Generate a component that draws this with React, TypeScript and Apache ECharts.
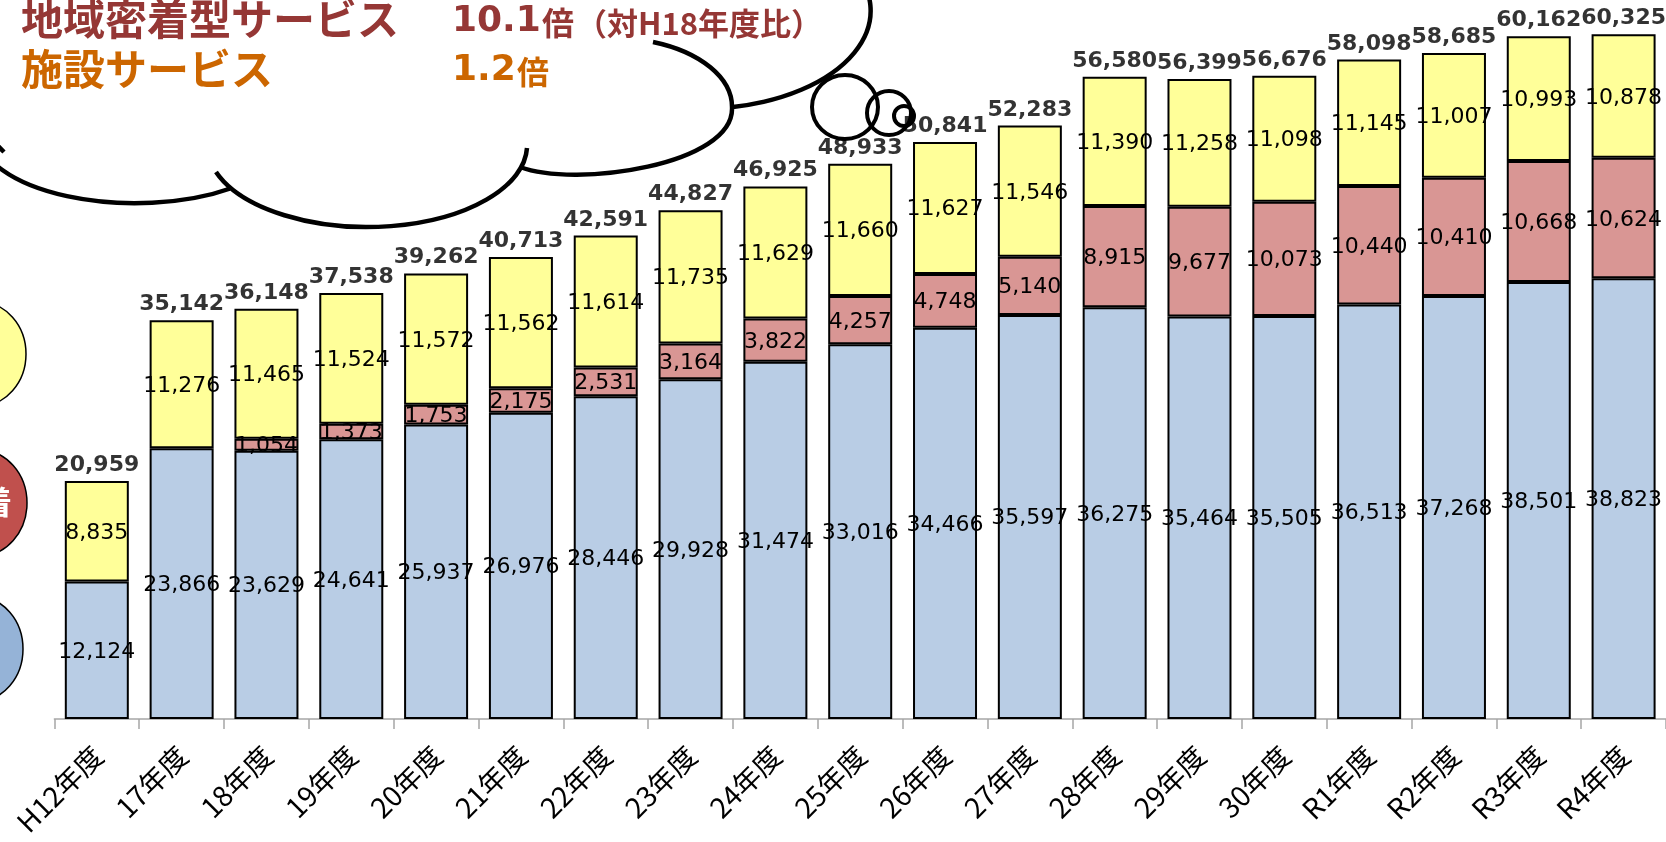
import React, { useEffect, useRef } from "react";
import * as echarts from "echarts";

const categories = [
  "H12年度", "17年度", "18年度", "19年度", "20年度", "21年度", "22年度", "23年度", "24年度", "25年度",
  "26年度", "27年度", "28年度", "29年度", "30年度", "R1年度", "R2年度", "R3年度", "R4年度",
];
const kyotaku = [12124, 23866, 23629, 24641, 25937, 26976, 28446, 29928, 31474, 33016, 34466, 35597, 36275, 35464, 35505, 36513, 37268, 38501, 38823];
const chiiki = [null, null, 1054, 1373, 1753, 2175, 2531, 3164, 3822, 4257, 4748, 5140, 8915, 9677, 10073, 10440, 10410, 10668, 10624];
const shisetsu = [8835, 11276, 11465, 11524, 11572, 11562, 11614, 11735, 11629, 11660, 11627, 11546, 11390, 11258, 11098, 11145, 11007, 10993, 10878];
const totals = [20959, 35142, 36148, 37538, 39262, 40713, 42591, 44827, 46925, 48933, 50841, 52283, 56580, 56399, 56676, 58098, 58685, 60162, 60325];

const cloudPath =
  "M -5 143 L 4 152 " +
  "M -21 133 A 156 70 0 0 0 232 188 " +
  "M 216 172 A 160 82 0 0 0 527 148 " +
  "M 520 167 C 575 188 735 165 732 107 A 120 69 0 0 0 653 42 " +
  "M 733 107 A 170 98 0 0 0 850 -36";

echarts.graphic.registerShape("cloud", echarts.graphic.extendPath(cloudPath, {}));

const fmt = (v: any) => (v == null ? "" : Number(v).toLocaleString("en-US"));

export default function App() {
  const ref = useRef<HTMLDivElement>(null);
  useEffect(() => {
    const chart = echarts.init(ref.current!, null, { renderer: "svg" });
    const segLabel = {
      show: true,
      position: "inside",
      color: "#000",
      fontSize: 22,
      fontFamily: "DejaVu Sans",
      formatter: (p: any) => fmt(p.value),
    };
    const border = { borderColor: "#000", borderWidth: 2 };
    const cjk = "Noto Sans CJK JP";
    const txt = (x: number, y: number, text: string, fill: string, size: number, family: string, align = "left") => ({
      type: "text",
      z: 11,
      x,
      y,
      style: { text, fill, fontSize: size, fontWeight: "bold", fontFamily: family, align, verticalAlign: "middle" },
    });
    chart.setOption({
      animation: false,
      grid: { left: 54.4, top: 0, width: 1618, height: 719, containLabel: false },
      xAxis: {
        type: "category",
        data: categories,
        boundaryGap: true,
        axisLine: { lineStyle: { color: "#A6A6A6", width: 1.5 } },
        axisTick: { show: true, length: 10, interval: 0, lineStyle: { color: "#A6A6A6", width: 1.5 } },
        axisLabel: {
          interval: 0,
          rotate: 45,
          margin: 31,
          fontSize: 28,
          color: "#000",
          fontFamily: cjk,
        },
      },
      yAxis: { type: "value", min: 0, max: 63350, show: false, splitLine: { show: false } },
      series: [
        {
          name: "居宅サービス",
          type: "bar",
          stack: "total",
          barWidth: 64,
          data: kyotaku,
          itemStyle: { color: "#B9CDE5", ...border },
          label: segLabel,
        },
        {
          name: "地域密着型サービス",
          type: "bar",
          stack: "total",
          barWidth: 64,
          data: chiiki,
          itemStyle: { color: "#D99694", ...border },
          label: segLabel,
        },
        {
          name: "施設サービス",
          type: "bar",
          stack: "total",
          barWidth: 64,
          data: shisetsu,
          itemStyle: { color: "#FFFF99", ...border },
          label: segLabel,
        },
        {
          name: "合計",
          type: "scatter",
          data: totals,
          symbolSize: 1,
          itemStyle: { color: "rgba(0,0,0,0)" },
          label: {
            show: true,
            position: "top",
            distance: 6,
            color: "#000",
            fontSize: 22,
            fontWeight: "bold",
            fontFamily: "DejaVu Sans",
            formatter: (p: any) => fmt(p.value),
          },
        },
      ],
      graphic: [
        { type: "cloud", x: 0, y: 0, z: 10, style: { fill: "none", stroke: "#000", lineWidth: 4.5 } },
        { type: "ellipse", z: 10, shape: { cx: 845, cy: 107, rx: 33, ry: 32 }, style: { fill: "none", stroke: "#000", lineWidth: 4 } },
        { type: "ellipse", z: 10, shape: { cx: 889, cy: 113, rx: 22, ry: 22 }, style: { fill: "none", stroke: "#000", lineWidth: 4 } },
        { type: "ellipse", z: 10, shape: { cx: 904, cy: 116, rx: 10, ry: 10 }, style: { fill: "none", stroke: "#000", lineWidth: 4 } },
        { type: "ellipse", z: 10, shape: { cx: -20, cy: 354, rx: 46, ry: 52 }, style: { fill: "#FFFF99", stroke: "#000", lineWidth: 1.5 } },
        { type: "ellipse", z: 10, shape: { cx: -20, cy: 503, rx: 47, ry: 53 }, style: { fill: "#C0504D", stroke: "#000", lineWidth: 1.5 } },
        { type: "ellipse", z: 10, shape: { cx: -22, cy: 649, rx: 45, ry: 52 }, style: { fill: "#95B3D7", stroke: "#000", lineWidth: 1.5 } },
        txt(12, 500, "地域密着", "#fff", 32, cjk, "right"),
        txt(21, 16, "地域密着型サービス", "#953735", 42, cjk),
        txt(452, 18, "10.1", "#953735", 36, "DejaVu Sans"),
        txt(542, 21, "倍", "#953735", 32, cjk),
        txt(576, 21, "（対H18年度比）", "#953735", 31, cjk),
        txt(21, 66, "施設サービス", "#CC6600", 42, cjk),
        txt(452, 67, "1.2", "#CC6600", 36, "DejaVu Sans"),
        txt(517, 70, "倍", "#CC6600", 32, cjk),
      ],
    });
    return () => chart.dispose();
  }, []);
  return <div ref={ref} style={{ position: "fixed", left: 0, top: 0, width: 1666, height: 842 }} />;
}
